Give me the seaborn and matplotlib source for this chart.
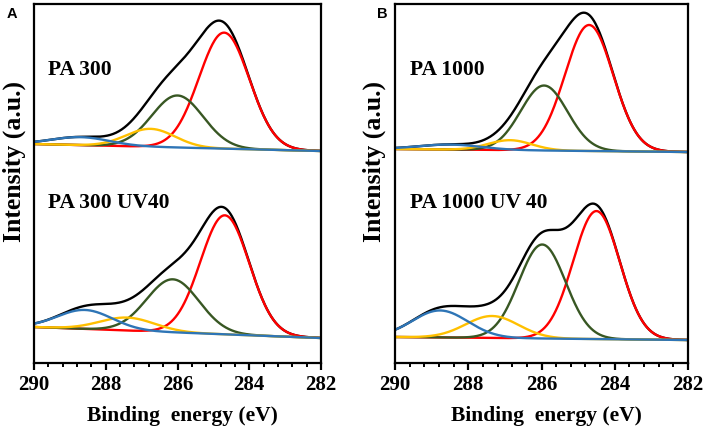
import numpy as np
import pandas as pd
import matplotlib
matplotlib.use("Agg")
import matplotlib.pyplot as plt
import seaborn as sns
from matplotlib.ticker import MultipleLocator

# --- peak fit parameters (binding energy eV, height a.u., FWHM eV) ---
components = ["red", "green", "yellow", "blue"]

a_top_center = [284.70, 286.00, 286.75, 288.70]
a_top_height = [116, 52, 18, 8]
a_top_fwhm = [1.65, 1.68, 1.60, 1.90]
a_top_base = [219, 212]          # background at 290 eV, 282 eV

a_bot_center = [284.68, 286.13, 287.40, 288.58]
a_bot_height = [119, 53, 13, 19]
a_bot_fwhm = [1.60, 1.72, 1.80, 1.80]
a_bot_base = [36, 25]

b_top_center = [284.70, 285.93, 286.86, 288.50]
b_top_height = [126, 65, 10, 5]
b_top_fwhm = [1.55, 1.50, 1.40, 2.00]
b_top_base = [214, 211]

b_bot_center = [284.50, 285.98, 287.35, 288.77]
b_bot_height = [128, 94, 22, 27]
b_bot_fwhm = [1.50, 1.50, 1.70, 1.78]
b_bot_base = [26, 23]

labels_a = ["PA 300", "PA 300 UV40"]
labels_b = ["PA 1000", "PA 1000 UV 40"]

COLORS = {"envelope": "#000000", "red": "#FF0000", "green": "#385723",
          "yellow": "#FFC000", "blue": "#2E75B6"}

sns.set_theme(style="ticks")
plt.rcParams.update({
    "font.family": ["Liberation Serif", "DejaVu Serif"],
    "font.weight": "bold",
    "axes.linewidth": 1.6,
    "text.color": "black",
    "axes.labelcolor": "black",
    "xtick.color": "black",
    "ytick.color": "black",
})

be = np.linspace(290, 282, 400)


def spectrum(center, height, fwhm, base):
    """Background + Gaussian components, and their sum (envelope)."""
    bg = base[0] + (base[1] - base[0]) * (290 - be) / 8.0
    rows = []
    total = bg.copy()
    for name, c, h, w in zip(components, center, height, fwhm):
        s = w / 2.3548
        g = h * np.exp(-(be - c) ** 2 / (2 * s ** 2))
        total += g
        rows.append(pd.DataFrame({"be": be, "y": bg + g, "curve": name}))
    rows.insert(0, pd.DataFrame({"be": be, "y": total, "curve": "envelope"}))
    return rows


def draw(ax, specs):
    for spec in specs:
        for df in spectrum(*spec):
            sns.lineplot(data=df, x="be", y="y", color=COLORS[df["curve"].iloc[0]],
                         lw=1.7, sort=False, ax=ax, legend=False)
    ax.set_xlim(290, 282)
    ax.set_ylim(0, 359)
    ax.set_yticks([])
    ax.set_xlabel("")
    ax.set_ylabel("")
    ax.xaxis.set_major_locator(MultipleLocator(2))
    ax.xaxis.set_minor_locator(MultipleLocator(0.4))
    ax.tick_params(axis="x", which="major", length=5, width=1.6, direction="out",
                   labelsize=15, pad=4)
    ax.tick_params(axis="x", which="minor", length=3, width=1.4, direction="out")
    for sp in ax.spines.values():
        sp.set_visible(True)
        sp.set_color("black")
        sp.set_linewidth(1.6)
    for lab in ax.get_xticklabels():
        lab.set_fontweight("bold")


W, H = 709, 430
fig = plt.figure(figsize=(W / 100, H / 100), dpi=100)
ax_a = fig.add_axes([34 / W, 1 - 363 / H, 287 / W, 359 / H])
ax_b = fig.add_axes([395 / W, 1 - 363 / H, 293 / W, 359 / H])

draw(ax_a, [(a_top_center, a_top_height, a_top_fwhm, a_top_base),
            (a_bot_center, a_bot_height, a_bot_fwhm, a_bot_base)])
draw(ax_b, [(b_top_center, b_top_height, b_top_fwhm, b_top_base),
            (b_bot_center, b_bot_height, b_bot_fwhm, b_bot_base)])

for ax, labs in [(ax_a, labels_a), (ax_b, labels_b)]:
    ax.text(0.05, 363 - 70, labs[0], transform=ax.get_yaxis_transform(),
            fontsize=15.5, fontweight="bold", va="center", ha="left")
    ax.text(0.05, 363 - 203, labs[1], transform=ax.get_yaxis_transform(),
            fontsize=15.5, fontweight="bold", va="center", ha="left")

# axis titles placed in figure pixels
for xc in (182, 546):
    fig.text(xc / W, 1 - 416 / H, "Binding  energy (eV)", fontsize=15.5,
             fontweight="bold", ha="center", va="center")
for xc in (14, 374):
    fig.text(xc / W, 1 - 161 / H, "Intensity (a.u.)", fontsize=18.5,
             fontweight="bold", ha="center", va="center", rotation=90)

fig.text(12 / W, 1 - 14 / H, "A", family="Liberation Sans", fontweight="bold",
         fontsize=10.5, ha="center", va="center")
fig.text(382 / W, 1 - 14 / H, "B", family="Liberation Sans", fontweight="bold",
         fontsize=10.5, ha="center", va="center")

fig.savefig("out.png", dpi=100)
